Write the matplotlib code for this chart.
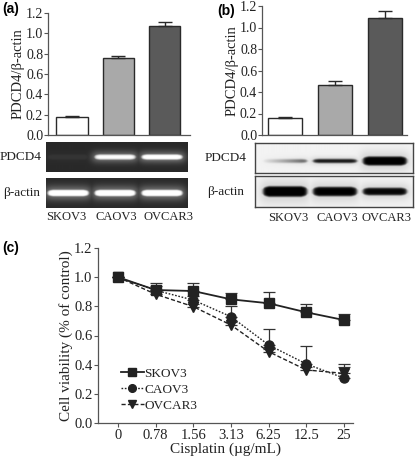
import numpy as np
import matplotlib
matplotlib.use("Agg")
import matplotlib.pyplot as plt

plt.rcParams['font.family'] = ['Liberation Serif', 'DejaVu Serif']

# ---------------- data ----------------
cell_lines = ["SKOV3", "CAOV3", "OVCAR3"]
bar_colors = ["#ffffff", "#a9a9a9", "#5a5a5a"]

rtpcr_ratio = [0.175, 0.76, 1.07]
rtpcr_err = [0.012, 0.02, 0.04]

wb_ratio = [0.155, 0.465, 1.085]
wb_err = [0.012, 0.035, 0.07]

# relative band intensities (0..1) and band half-thickness (fraction of strip)
gel_pdcd4 = [0.05, 0.85, 0.92]
gel_pdcd4_thick = [0.09, 0.09, 0.09]
gel_actin = [0.95, 0.95, 0.95]
gel_actin_thick = [0.11, 0.11, 0.11]
wb_pdcd4 = [0.55, 0.9, 0.97]
wb_pdcd4_thick = [0.06, 0.065, 0.15]
wb_actin = [0.97, 0.95, 0.93]
wb_actin_thick = [0.17, 0.15, 0.12]

doses = ["0", "0.78", "1.56", "3.13", "6.25", "12.5", "25"]
skov3 = [1.0, 0.912, 0.905, 0.848, 0.821, 0.759, 0.706]
skov3_err = [0.0, 0.045, 0.052, 0.046, 0.08, 0.057, 0.042]
caov3 = [1.0, 0.91, 0.843, 0.729, 0.535, 0.405, 0.308]
caov3_err = [0.0, 0.03, 0.03, 0.07, 0.11, 0.123, 0.10]
ovcar3 = [1.0, 0.883, 0.798, 0.672, 0.489, 0.364, 0.34]
ovcar3_err = [0.0, 0.02, 0.02, 0.02, 0.02, 0.02, 0.046]

W, H = 417, 457
fig = plt.figure(figsize=(W / 100, H / 100), dpi=100)

def ax_px(l, r, t, b):
    return fig.add_axes([l / W, 1 - b / H, (r - l) / W, (b - t) / H])

INK = "#222222"
AXC = "#555555"

def style_bar_axis(ax):
    for s in ["top", "right"]:
        ax.spines[s].set_visible(False)
    for s in ["left", "bottom"]:
        ax.spines[s].set_color(AXC)
        ax.spines[s].set_linewidth(0.9)
    ax.set_ylim(0, 1.2)
    ax.set_yticks(np.arange(0, 1.21, 0.2))
    ax.set_yticklabels([f"{v:.1f}" for v in np.arange(0, 1.21, 0.2)])
    ax.tick_params(axis='y', direction='out', length=3, width=0.8, color=AXC,
                   labelsize=10, pad=0.5, labelcolor=INK)
    ax.set_xticks([])
    ax.set_ylabel("PDCD4/β-actin", fontsize=10.5, color=INK, labelpad=1)

def draw_bars(ax, vals, errs):
    x = np.arange(len(vals))
    ax.bar(x, vals, width=0.68, color=bar_colors, edgecolor="#2a2a2a", linewidth=1.0)
    ax.errorbar(x, vals, yerr=[np.zeros(len(errs)), errs], fmt='none',
                ecolor="#2a2a2a", elinewidth=1.0, capsize=5, capthick=1.0)

# ---- panel (a) bars
axa = ax_px(48, 190, 13, 135)
draw_bars(axa, rtpcr_ratio, rtpcr_err)
axa.set_xlim(-0.52, 2.55)
style_bar_axis(axa)

# ---- panel (b) bars
axb = ax_px(262, 407, 6, 135)
draw_bars(axb, wb_ratio, wb_err)
axb.set_xlim(-0.46, 2.45)
style_bar_axis(axb)

# ---- band images
def band_image(intens, thick, xlim, bg, sign, halfw, yc=0.5, ramp=None, glow=0.0):
    xs = np.linspace(xlim[0], xlim[1], 400)
    ys = np.linspace(0, 1, 120)
    X, Y = np.meshgrid(xs, ys)
    img = np.zeros_like(X)
    for i, (a, t) in enumerate(zip(intens, thick)):
        dx = np.abs(X - i)
        edge = np.clip((halfw - dx) / 0.12, 0, 1) ** 0.5
        tt = t * (0.55 + 0.45 * edge)
        hx = 1 / (1 + np.exp(-(halfw - dx) / 0.02))
        vy = 1 / (1 + np.exp(-(tt - np.abs(Y - yc)) / 0.018))
        core = hx * vy
        halo = glow * np.exp(-((Y - yc) / (t * 2.2)) ** 2) * \
            1 / (1 + np.exp(-(halfw + 0.04 - dx) / 0.05))
        f = a
        if ramp is not None and ramp[i]:
            f = a * np.clip(0.1 + 1.0 * (X - i + halfw) / (2 * halfw), 0, 1.1)
        img = np.maximum(img, f * np.maximum(core, halo))
    return bg + sign * img

def strip_axis(l, r, t, b, intens, thick, xlim, kind, label, label_x, ramp=None, yc=0.5):
    ax = ax_px(l, r, t, b)
    if kind == "gel":
        img = band_image(intens, thick, xlim, 0.16, +1, halfw=0.44, yc=yc, glow=0.35)
        for s in ax.spines.values():
            s.set_visible(False)
    else:
        img = band_image(intens, thick, xlim, 0.95, -1, halfw=0.44, yc=yc, ramp=ramp, glow=0.15)
        for s in ax.spines.values():
            s.set_color("#444444")
            s.set_linewidth(1.0)
    ax.imshow(img, cmap="gray", vmin=0, vmax=1, aspect="auto",
              extent=[xlim[0], xlim[1], 0, 1], origin="lower", interpolation="bilinear")
    ax.set_xlim(*xlim)
    ax.set_ylim(0, 1)
    ax.set_xticks([])
    ax.set_yticks([])
    fig.text(label_x / W, 1 - ((t + b) / 2) / H, label, ha="center", va="center",
             fontsize=9.5, color=INK)
    return ax

gel_xlim = (-0.47, 2.55)
strip_axis(46, 188, 142, 172, gel_pdcd4, gel_pdcd4_thick, gel_xlim, "gel", "PDCD4", 21)
strip_axis(46, 188, 178, 208, gel_actin, gel_actin_thick, gel_xlim, "gel", "β-actin", 22)
gel_lane_px = [66, 116, 168]
for name, px in zip(cell_lines, gel_lane_px):
    fig.text(px / W, 1 - 217 / H, name, ha="center", va="center", fontsize=9, color=INK)

wb_xlim = (-0.6, 2.56)
strip_axis(255, 413, 143, 173, wb_pdcd4, wb_pdcd4_thick, wb_xlim, "wb", "PDCD4", 226,
           ramp=[True, False, False], yc=0.4)
strip_axis(255, 413, 176, 207, wb_actin, wb_actin_thick, wb_xlim, "wb", "β-actin", 226)
wb_lane_px = [288, 337, 386]
for name, px in zip(cell_lines, wb_lane_px):
    fig.text(px / W, 1 - 218 / H, name, ha="center", va="center", fontsize=9, color=INK)

# ---------------- panel (c) ----------------
axc = ax_px(98, 353, 248, 423)
x = np.arange(len(doses))
series = [
    ("SKOV3", skov3, skov3_err, "s", "-", 6.5, 1.3),
    ("CAOV3", caov3, caov3_err, "o", (0, (1.2, 1.2)), 6.5, 1.0),
    ("OVCAR3", ovcar3, ovcar3_err, "v", (0, (3, 1.6)), 6.5, 1.0),
]
handles = []
for name, y, e, m, ls, ms, lw in series:
    axc.errorbar(x, y, yerr=[np.zeros(len(e)), e], fmt='none', ecolor="#333333",
                 elinewidth=0.9, capsize=4, capthick=0.9, zorder=2)
    ln, = axc.plot(x, y, marker=m, linestyle=ls, color=INK, markersize=ms,
                   linewidth=lw, label=name, zorder=3)
    handles.append(ln)

axc.set_xlim(-0.53, 6.24)
axc.set_ylim(0, 1.2)
axc.set_xticks(x)
axc.set_xticklabels(doses)
axc.set_yticks(np.arange(0, 1.21, 0.2))
axc.set_yticklabels([f"{v:.1f}" for v in np.arange(0, 1.21, 0.2)])
for s in ["top", "right"]:
    axc.spines[s].set_visible(False)
for s in ["left", "bottom"]:
    axc.spines[s].set_color(AXC)
    axc.spines[s].set_linewidth(0.9)
axc.tick_params(axis='both', direction='out', length=3, width=0.8, color=AXC,
                labelsize=10.5, labelcolor=INK)
axc.tick_params(axis='y', pad=1)
axc.tick_params(axis='x', pad=1.5)
axc.set_ylabel("Cell viability (% of control)", fontsize=11, color=INK, labelpad=1)
axc.set_xlabel("Cisplatin (µg/mL)", fontsize=11, color=INK, labelpad=0)
axc.legend(handles=handles, loc="upper left", bbox_to_anchor=(0.055, 0.37), frameon=False,
           fontsize=9.5, handlelength=1.7, handletextpad=0.05, labelspacing=0.3,
           borderaxespad=0.3, labelcolor=INK, markerscale=0.85)

# panel letters
fig.text(2 / W, 1 - 9 / H, "(a)", fontsize=10, fontweight="bold",
         family="Liberation Sans", va="center", ha="left")
fig.text(217 / W, 1 - 11 / H, "(b)", fontsize=10, fontweight="bold",
         family="Liberation Sans", va="center", ha="left")
fig.text(2 / W, 1 - 248 / H, "(c)", fontsize=10, fontweight="bold",
         family="Liberation Sans", va="center", ha="left")

fig.savefig("out.png", dpi=100)
